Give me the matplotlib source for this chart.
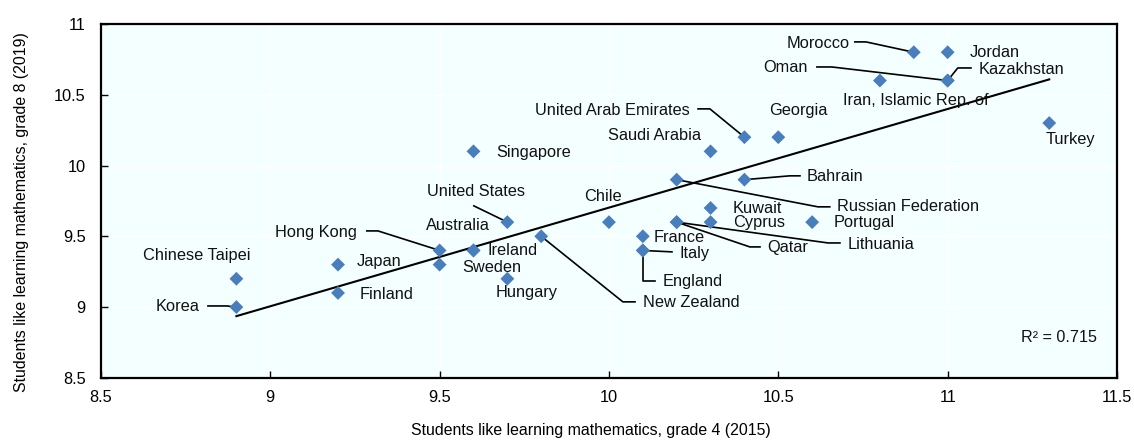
import numpy as np
import matplotlib.pyplot as plt

# Countries and values
countries = [
    "Korea", "Chinese Taipei", "Japan", "Finland", "Hong Kong", "Sweden",
    "Australia", "Ireland", "Hungary", "United States", "Singapore",
    "New Zealand", "Chile", "France", "Italy", "England",
    "Russian Federation", "Lithuania", "Qatar", "Kuwait", "Cyprus",
    "Saudi Arabia", "United Arab Emirates", "Bahrain", "Georgia", "Portugal",
    "Iran, Islamic Rep. of", "Morocco", "Jordan", "Kazakhstan", "Oman", "Turkey",
]
grade4_2015 = [
    8.9, 8.9, 9.2, 9.2, 9.5, 9.5, 9.6, 9.6, 9.7, 9.7, 9.6,
    9.8, 10.0, 10.1, 10.1, 10.1, 10.2, 10.2, 10.2, 10.3, 10.3,
    10.3, 10.4, 10.4, 10.5, 10.6, 10.8, 10.9, 11.0, 11.0, 11.0, 11.3,
]
grade8_2019 = [
    9.0, 9.2, 9.3, 9.1, 9.4, 9.3, 9.4, 9.4, 9.2, 9.6, 10.1,
    9.5, 9.6, 9.5, 9.4, 9.4, 9.9, 9.6, 9.6, 9.7, 9.6,
    10.1, 10.2, 9.9, 10.2, 9.6, 10.6, 10.8, 10.8, 10.6, 10.6, 10.3,
]
r2_text = "R² = 0.715"

# label placement (data coords): name -> (x, y, ha, leader elbow points)
label_pos = {
    "Korea": (8.792, 9.001, "right", [(8.872, 9.008), (8.816, 9.008)]),
    "Chinese Taipei": (8.624, 9.362, "left", None),
    "Japan": (9.256, 9.319, "left", None),
    "Finland": (9.265, 9.086, "left", None),
    "Hong Kong": (9.256, 9.524, "right", [(9.318, 9.538), (9.285, 9.538)]),
    "Sweden": (9.566, 9.277, "left", None),
    "Australia": (9.460, 9.573, "left", None),
    "Ireland": (9.640, 9.397, "left", None),
    "Hungary": (9.666, 9.100, "left", None),
    "United States": (9.463, 9.814, "left", [(9.601, 9.715)]),
    "Singapore": (9.666, 10.089, "left", None),
    "New Zealand": (10.100, 9.030, "left", [(10.041, 9.037), (10.077, 9.037)]),
    "Chile": (9.926, 9.778, "left", None),
    "France": (10.133, 9.489, "left", None),
    "Italy": (10.209, 9.376, "left", [(10.186, 9.39)]),
    "England": (10.159, 9.178, "left", [(10.1, 9.185), (10.136, 9.185)]),
    "Russian Federation": (10.673, 9.708, "left", [(10.617, 9.708), (10.652, 9.708)]),
    "Lithuania": (10.705, 9.439, "left", [(10.647, 9.453), (10.682, 9.453)]),
    "Qatar": (10.466, 9.418, "left", [(10.416, 9.425), (10.446, 9.425)]),
    "Kuwait": (10.366, 9.693, "left", None),
    "Cyprus": (10.366, 9.595, "left", None),
    "Saudi Arabia": (10.271, 10.209, "right", None),
    "United Arab Emirates": (10.239, 10.386, "right", [(10.298, 10.400), (10.263, 10.400)]),
    "Bahrain": (10.584, 9.919, "left", [(10.534, 9.927), (10.564, 9.927)]),
    "Georgia": (10.472, 10.386, "left", None),
    "Portugal": (10.664, 9.595, "left", None),
    "Iran, Islamic Rep. of": (10.691, 10.456, "left", None),
    "Morocco": (10.711, 10.859, "right", [(10.759, 10.873), (10.726, 10.873)]),
    "Jordan": (11.066, 10.795, "left", None),
    "Kazakhstan": (11.092, 10.675, "left", [(11.030, 10.689), (11.069, 10.689)]),
    "Oman": (10.587, 10.689, "right", [(10.658, 10.696), (10.614, 10.696)]),
    "Turkey": (11.290, 10.181, "left", None),
}

plt.rcParams["font.family"] = ["Liberation Sans", "DejaVu Sans"]

fig = plt.figure(figsize=(11.34, 4.43), dpi=100)
ax = fig.add_axes([0.089, 0.147, 0.896, 0.799])
ax.set_facecolor("#F4FFFF")

x = np.array(grade4_2015)
y = np.array(grade8_2019)

# trend line
slope, intercept = np.polyfit(x, y, 1)
xs = np.array([x.min(), x.max()])
ax.plot(xs, slope * xs + intercept, color="black", lw=1.5, zorder=2)

# leader lines
for name, px, py in zip(countries, x, y):
    lx, ly, ha, elbow = label_pos[name]
    if elbow:
        pts = [(px, py)] + elbow
        ax.plot([p[0] for p in pts], [p[1] for p in pts], color="black", lw=1.2, zorder=2)

ax.scatter(x, y, marker="D", s=50, color="#4A7EBB", edgecolors="none", zorder=3)

for name in countries:
    lx, ly, ha, elbow = label_pos[name]
    ax.text(lx, ly, name, ha=ha, va="center", fontsize=11.8, color="#111111", zorder=4)

ax.text(11.441, 8.782, r2_text, ha="right", va="center", fontsize=11.6, color="#111111")

ax.set_xlim(8.5, 11.5)
ax.set_ylim(8.5, 11)
ax.set_xticks([8.5, 9, 9.5, 10, 10.5, 11, 11.5])
ax.set_xticklabels(["8.5", "9", "9.5", "10", "10.5", "11", "11.5"])
ax.set_yticks([8.5, 9, 9.5, 10, 10.5, 11])
ax.set_yticklabels(["8.5", "9", "9.5", "10", "10.5", "11"])
ax.grid(True, color="white", lw=1)
ax.set_axisbelow(True)
ax.tick_params(direction="in", length=5, width=1, labelsize=11.8)
ax.tick_params(axis="x", pad=9)
ax.tick_params(axis="y", pad=11)
for s in ax.spines.values():
    s.set_linewidth(1.6)
    s.set_color("black")

ax.set_xlabel("Students like learning mathematics, grade 4 (2015)", fontsize=11.4)
ax.set_ylabel("Students like learning mathematics, grade 8 (2019)", fontsize=11.4)
ax.xaxis.set_label_coords(0.482, -0.128)
ax.yaxis.set_label_coords(-0.071, 0.469)

fig.savefig("out.png", dpi=100)
